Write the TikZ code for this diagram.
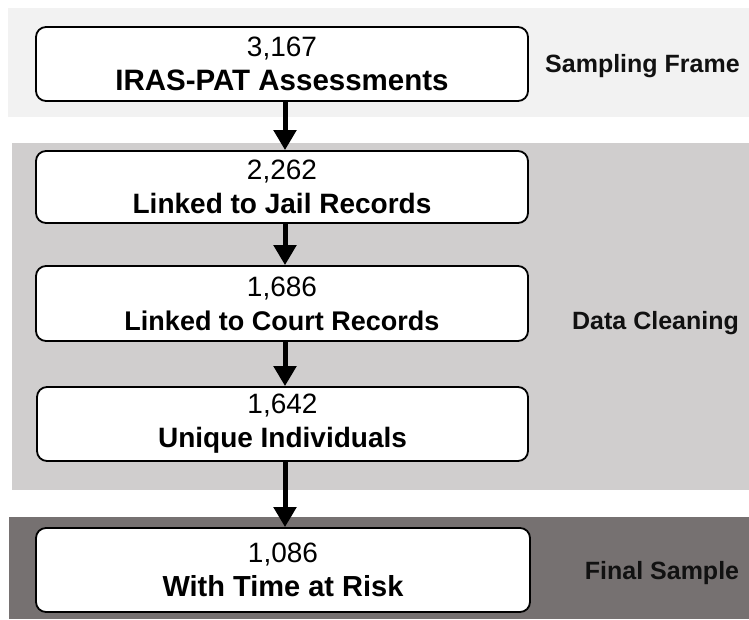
\documentclass[tikz,border=0pt]{standalone}
\usepackage{fontspec}
\setmainfont{Liberation Sans}
\usetikzlibrary{arrows.meta}
\definecolor{bandA}{HTML}{F2F2F2}
\definecolor{bandB}{HTML}{D0CECE}
\definecolor{bandC}{HTML}{767171}
\definecolor{labtxt}{HTML}{111111}
\tikzset{
  stagebox/.style={draw=black, line width=1.8pt, fill=white, rounded corners=10pt,
    align=center, inner sep=0pt, font=\fontsize{28}{34}\selectfont},
  sidelabel/.style={font=\fontsize{25}{30}\selectfont\bfseries, text=labtxt, inner sep=0pt},
  flowarrow/.style={line width=5pt, -{Triangle[width=22pt,length=20pt]}}
}
\begin{document}
\begin{tikzpicture}[x=1pt,y=-1pt]
\useasboundingbox (0,0) rectangle (749,619);
% bands
\fill[bandA] (8,8) rectangle (749,117);
\fill[bandB] (12,143) rectangle (749,490);
\fill[bandC] (9,517) rectangle (749,619);
% boxes
\node[stagebox, minimum width=492pt, minimum height=74pt] (b1) at (282,64) {3,167\\{\fontsize{29.5}{34}\selectfont\bfseries IRAS-PAT Assessments}};
\node[stagebox, minimum width=492pt, minimum height=72pt] (b2) at (282,187) {2,262\\\textbf{Linked to Jail Records}};
\node[stagebox, minimum width=492pt, minimum height=75pt] (b3) at (282,303.5) {1,686\\{\fontsize{27}{34}\selectfont\bfseries Linked to Court Records}};
\node[stagebox, minimum width=491pt, minimum height=74pt] (b4) at (282.5,424) {1,642\\\textbf{Unique Individuals}};
\node[stagebox, minimum width=494pt, minimum height=84pt] (b5) at (283,570) {1,086\\{\fontsize{29}{34}\selectfont\bfseries With Time at Risk}};
% side labels
\node[sidelabel, anchor=west] (l1) at (545,66) {Sampling Frame};
\node[sidelabel] (l2) at (655.5,323) {Data Cleaning};
\node[sidelabel] (l3) at (662,573) {Final Sample};
% arrows
\coordinate (ax) at (285,0);
\draw[flowarrow] (b1.south -| ax) -- (b2.north -| ax);
\draw[flowarrow] (b2.south -| ax) -- (b3.north -| ax);
\draw[flowarrow] (b3.south -| ax) -- (b4.north -| ax);
\draw[flowarrow] (b4.south -| ax) -- (b5.north -| ax);
\end{tikzpicture}
\end{document}
